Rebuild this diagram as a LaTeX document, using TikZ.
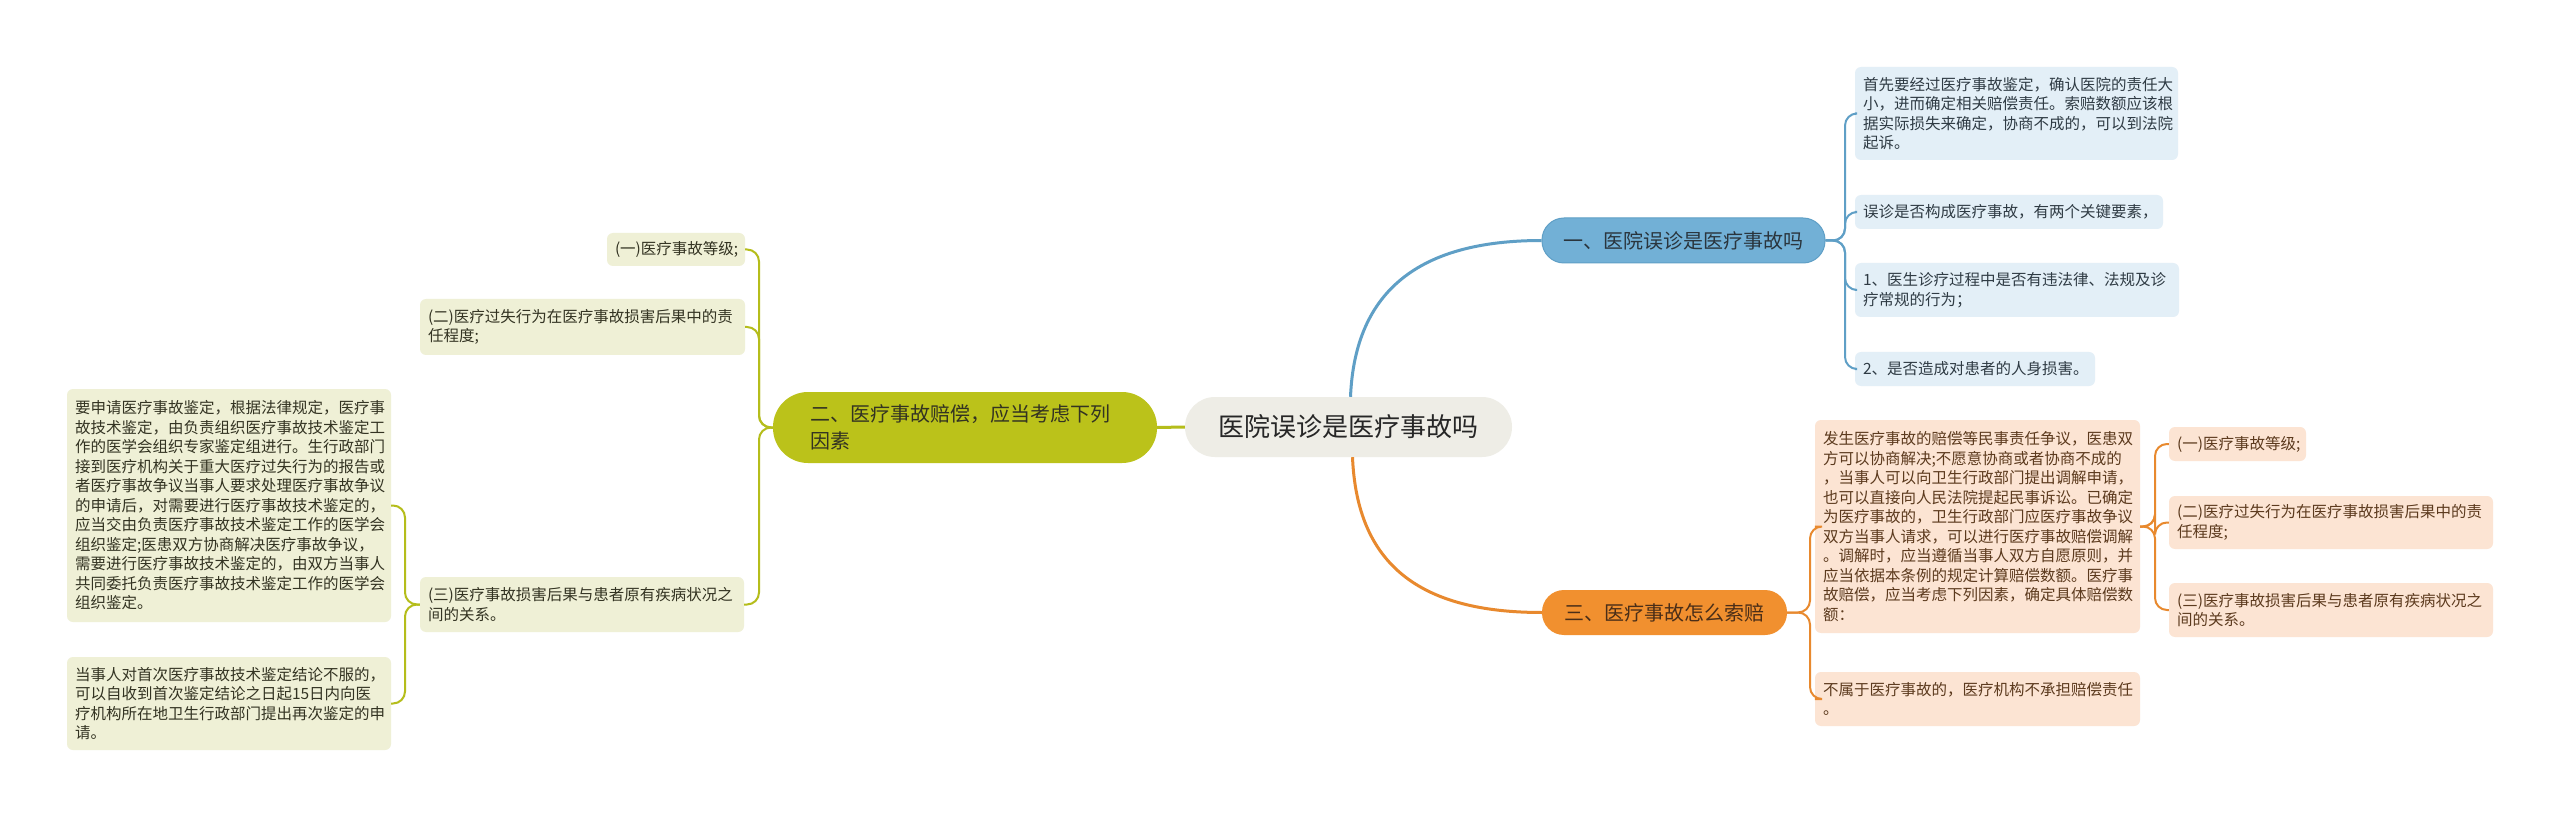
\documentclass[tikz,border=0pt]{standalone}
\usepackage{fontspec}
\setmainfont{Noto Sans CJK SC}
\definecolor{bline}{HTML}{5F9FC6}
\definecolor{bfill}{HTML}{72B0D6}
\definecolor{bleaf}{HTML}{E3EFF7}
\definecolor{gline}{HTML}{B5BD1B}
\definecolor{gfill}{HTML}{BBC21A}
\definecolor{gleaf}{HTML}{EFF0D6}
\definecolor{oline}{HTML}{E8892E}
\definecolor{ofill}{HTML}{F1902F}
\definecolor{oleaf}{HTML}{FCE4D3}
\definecolor{cfill}{HTML}{EEEDE6}
\definecolor{btext}{HTML}{2F3B44}
\definecolor{gtext}{HTML}{333322}
\definecolor{otext}{HTML}{5C3A1E}
\begin{document}
\begin{tikzpicture}[x=1pt,y=-1pt,
  leaf/.style={rounded corners=6pt, inner xsep=8pt, inner ysep=0pt, align=left,
    font=\fontsize{15.5}{19.5}\selectfont, anchor=center},
  bleafn/.style={leaf, fill=bleaf, text=btext},
  gleafn/.style={leaf, fill=gleaf, text=gtext},
  oleafn/.style={leaf, fill=oleaf, text=otext},
  pill/.style={rounded corners=22pt, inner sep=0pt, align=left,
    font=\fontsize{20}{26.5}\selectfont},
  bcon/.style={draw=bline, line width=2pt, rounded corners=12pt},
  gcon/.style={draw=gline, line width=2pt, rounded corners=12pt},
  ocon/.style={draw=oline, line width=2pt, rounded corners=12pt}
]
\useasboundingbox (0,0) rectangle (2560,818);
\fill[white] (0,0) rectangle (2560,818);

% central and main nodes
\node[fill=cfill, rounded corners=30pt, minimum width=327pt, minimum height=60pt,
  font=\fontsize{26}{30}\selectfont, text=black!85] (c) at (1348.5,427) {医院误诊是医疗事故吗};
\node[pill, fill=bfill, draw=bline, line width=1pt, minimum width=283pt, minimum height=45pt, text=btext!90!black] (n1) at (1683.5,240.5) {一、医院误诊是医疗事故吗};
\node[pill, fill=gfill, rounded corners=35pt, minimum width=384pt, minimum height=71pt, text width=310pt, text=gtext] (n2) at (965,427.5) {二、医疗事故赔偿，应当考虑下列\\因素};
\node[pill, fill=ofill, minimum width=245pt, minimum height=45pt, text=otext!80!black] (n3) at (1664.5,612.5) {三、医疗事故怎么索赔};

% blue leaves
\node[bleafn, minimum width=323pt, minimum height=93pt, text width=307pt] (b1) at (2016.5,113.5) {首先要经过医疗事故鉴定，确认医院的责任大\\小，进而确定相关赔偿责任。索赔数额应该根\\据实际损失来确定，协商不成的，可以到法院\\起诉。};
\node[bleafn, minimum width=308pt, minimum height=34pt, text width=292pt] (b2) at (2009,212) {误诊是否构成医疗事故，有两个关键要素，};
\node[bleafn, minimum width=324pt, minimum height=54pt, text width=308pt] (b3) at (2017,290) {1、医生诊疗过程中是否有违法律、法规及诊\\疗常规的行为；};
\node[bleafn, minimum width=240pt, minimum height=34pt, text width=224pt] (b4) at (1975,369) {2、是否造成对患者的人身损害。};

% orange leaves
\node[oleafn, minimum width=325pt, minimum height=213pt, text width=309pt] (o1) at (1977.5,526.5) {发生医疗事故的赔偿等民事责任争议，医患双\\方可以协商解决;不愿意协商或者协商不成的\\，当事人可以向卫生行政部门提出调解申请，\\也可以直接向人民法院提起民事诉讼。已确定\\为医疗事故的，卫生行政部门应医疗事故争议\\双方当事人请求，可以进行医疗事故赔偿调解\\。调解时，应当遵循当事人双方自愿原则，并\\应当依据本条例的规定计算赔偿数额。医疗事\\故赔偿，应当考虑下列因素，确定具体赔偿数\\额：};
\node[oleafn, minimum width=325pt, minimum height=54pt, text width=309pt] (o2) at (1977.5,699) {不属于医疗事故的，医疗机构不承担赔偿责任\\。};
\node[oleafn, minimum width=137pt, minimum height=34pt, text width=121pt] (oa) at (2237.5,444) {(一)医疗事故等级;};
\node[oleafn, minimum width=324pt, minimum height=53pt, text width=308pt] (ob) at (2331,522.5) {(二)医疗过失行为在医疗事故损害后果中的责\\任程度;};
\node[oleafn, minimum width=324pt, minimum height=54pt, text width=308pt] (oc) at (2331,610) {(三)医疗事故损害后果与患者原有疾病状况之\\间的关系。};

% green leaves
\node[gleafn, minimum width=138pt, minimum height=33pt, text width=122pt] (g1) at (676,249.5) {(一)医疗事故等级;};
\node[gleafn, minimum width=325pt, minimum height=56pt, text width=309pt] (g2) at (582.5,327) {(二)医疗过失行为在医疗事故损害后果中的责\\任程度;};
\node[gleafn, minimum width=324pt, minimum height=55pt, text width=308pt] (g3) at (582,604.5) {(三)医疗事故损害后果与患者原有疾病状况之\\间的关系。};
\node[gleafn, minimum width=324pt, minimum height=233pt, text width=308pt] (g3a) at (229,505.5) {要申请医疗事故鉴定，根据法律规定，医疗事\\故技术鉴定，由负责组织医疗事故技术鉴定工\\作的医学会组织专家鉴定组进行。生行政部门\\接到医疗机构关于重大医疗过失行为的报告或\\者医疗事故争议当事人要求处理医疗事故争议\\的申请后，对需要进行医疗事故技术鉴定的，\\应当交由负责医疗事故技术鉴定工作的医学会\\组织鉴定;医患双方协商解决医疗事故争议，\\需要进行医疗事故技术鉴定的，由双方当事人\\共同委托负责医疗事故技术鉴定工作的医学会\\组织鉴定。};
\node[gleafn, minimum width=324pt, minimum height=93pt, text width=308pt] (g3b) at (229,703.5) {当事人对首次医疗事故技术鉴定结论不服的，\\可以自收到首次鉴定结论之日起15日内向医\\疗机构所在地卫生行政部门提出再次鉴定的申\\请。};

% main connectors
\draw[draw=bline, line width=3pt] (c.north) ++(2,0) coordinate (cn)
  (cn) .. controls (1355,290) and (1420,240.5) .. (n1.west);
\draw[draw=oline, line width=3pt] (c.south) ++(4,0) coordinate (cs)
  (cs) .. controls (1357,565) and (1420,612.5) .. (n3.west);
\draw[draw=gline, line width=3pt] (c.west) -- (n2.east);

% blue branches
\foreach \t in {b1,b2,b3,b4}
  \path[bcon] (n1.east) -- (1845,240.5) |- (\t.west);
% orange branches
\foreach \t in {o1,o2}
  \path[ocon] (n3.east) -- (1810,612.5) |- (\t.west);
\foreach \t in {oa,ob,oc}
  \path[ocon] (o1.east) -- (2155,526.5) |- (\t.west);
% green branches
\foreach \t in {g1,g2,g3}
  \path[gcon] (n2.west) -- (759,427.5) |- (\t.east);
\foreach \t in {g3a,g3b}
  \path[gcon] (g3.west) -- (405,604.5) |- (\t.east);
\end{tikzpicture}
\end{document}
